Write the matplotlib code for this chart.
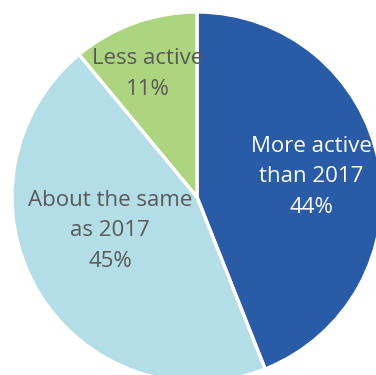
import matplotlib
matplotlib.use("Agg")
import matplotlib.pyplot as plt

categories = ["More active\nthan 2017", "About the same\nas 2017", "Less active"]
values = [44, 45, 11]
colors = ["#2A5BA6", "#B4DEE7", "#ADD47E"]
text_colors = ["white", "#595959", "#595959"]
# label centres in pixel coords (x, y from top)
label_pos = [(311, 177), (110, 231), (148, 74)]

W, H = 376, 375
fig = plt.figure(figsize=(W / 100, H / 100), dpi=100)
ax = fig.add_axes([0, 0, 1, 1])

ax.pie(values, colors=colors, startangle=90, counterclock=False,
       center=(197, H - 197), radius=185, frame=True,
       wedgeprops=dict(edgecolor="white", linewidth=2.4))
ax.set_xlim(0, W)
ax.set_ylim(0, H)
ax.set_aspect("equal")
ax.axis("off")

for cat, v, (x, y), tc in zip(categories, values, label_pos, text_colors):
    ax.text(x, H - y, f"{cat}\n{v}%", ha="center", va="center", color=tc,
            fontsize=16, family="Open Sans", linespacing=1.62)

fig.savefig("out.png", dpi=100)
